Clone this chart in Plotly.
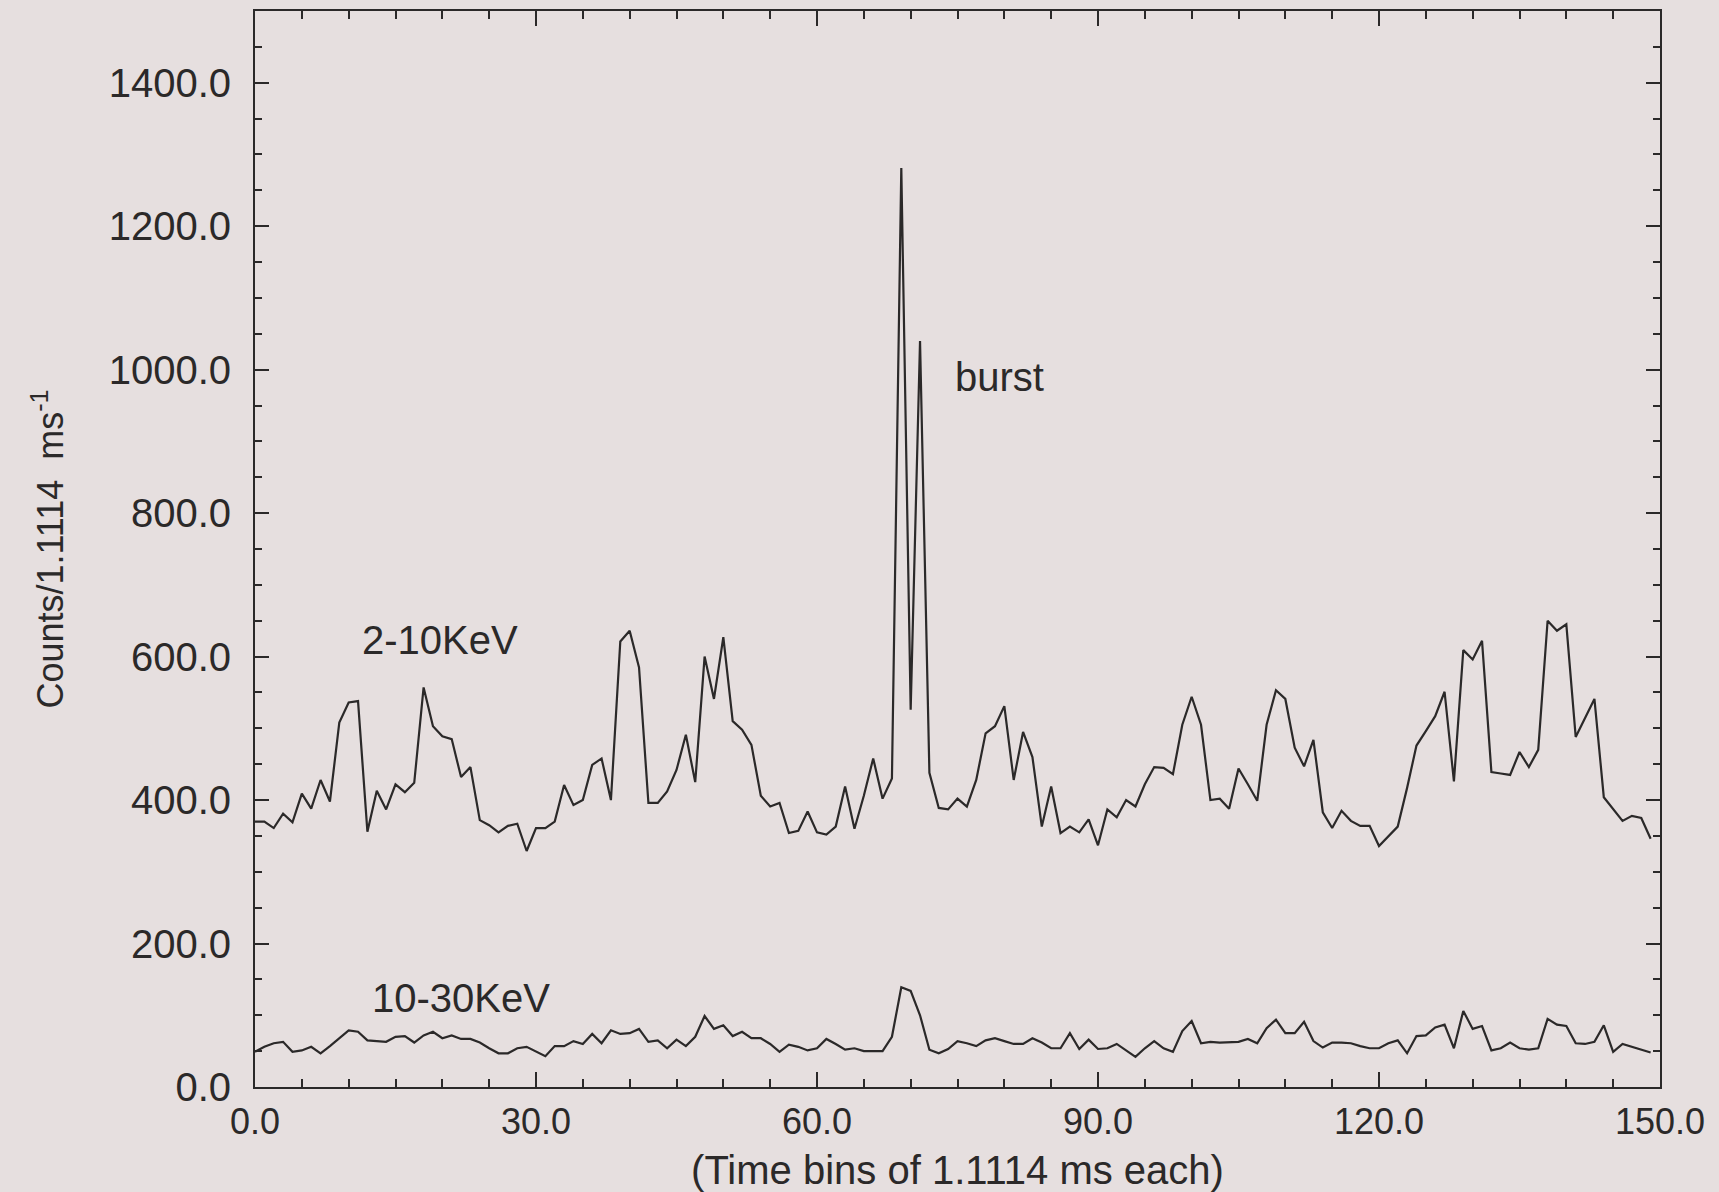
import plotly.graph_objects as go

bins = list(range(150))

counts_2_10kev = [
    370, 370, 361, 381, 369, 409, 388, 428, 398, 508,
    536, 538, 356, 413, 387, 422, 411, 424, 557, 503,
    489, 485, 432, 446, 372, 365, 355, 364, 367, 329,
    361, 361, 370, 421, 393, 400, 449, 458, 400, 621,
    636, 585, 396, 396, 412, 442, 491, 425, 600, 541,
    627, 510, 498, 477, 406, 391, 396, 354, 357, 384,
    355, 352, 363, 419, 360, 406, 458, 402, 430, 1281,
    526, 1040, 438, 389, 387, 402, 391, 428, 493, 503,
    531, 428, 495, 460, 363, 419, 354, 363, 355, 373,
    337, 387, 376, 400, 391, 422, 446, 445, 436, 505,
    544, 505, 400, 402, 388, 444, 422, 399, 505, 553,
    541, 473, 447, 484, 383, 361, 385, 371, 364, 364,
    336, 350, 363, 417, 476, 496, 517, 551, 426, 609,
    596, 622, 439, 437, 435, 467, 446, 470, 650, 636,
    645, 488, 515, 541, 404, 387, 371, 378, 375, 346,
]

counts_10_30kev = [
    49, 56, 61, 63, 49, 51, 56, 47, 57, 68,
    79, 77, 65, 64, 63, 70, 71, 62, 72, 77,
    68, 72, 67, 67, 62, 54, 47, 47, 54, 56,
    50, 43, 57, 57, 64, 60, 74, 61, 79, 74,
    75, 81, 63, 65, 54, 66, 57, 70, 99, 81,
    86, 71, 77, 68, 68, 60, 49, 59, 56, 51,
    54, 67, 60, 52, 54, 50, 50, 50, 70, 139,
    134, 100, 52, 47, 53, 64, 61, 57, 65, 68,
    64, 60, 60, 68, 62, 54, 54, 75, 53, 66,
    53, 54, 60, 51, 42, 54, 64, 54, 49, 78,
    92, 61, 63, 62, 63, 63, 67, 61, 82, 94,
    75, 75, 91, 64, 55, 62, 62, 61, 57, 54,
    54, 61, 65, 47, 71, 72, 83, 87, 54, 106,
    81, 85, 51, 54, 62, 54, 52, 54, 95, 87,
    85, 61, 60, 63, 86, 49, 60, 56, 51, 48,
]

labels = [
    {"text": "2-10KeV", "x": 19.8, "y": 623},
    {"text": "10-30KeV", "x": 22.0, "y": 124},
    {"text": "burst", "x": 79.5, "y": 990},
]

x_ticks = [0, 30, 60, 90, 120, 150]
y_ticks = [0, 200, 400, 600, 800, 1000, 1200, 1400]

BG = "#e6dfdf"
INK = "#2b2929"
REG = "Liberation Sans, Arial, Helvetica, sans-serif"

fig = go.Figure()
fig.add_trace(go.Scatter(x=bins, y=counts_2_10kev, mode="lines",
                         line=dict(color=INK, width=2.2), name="2-10KeV",
                         showlegend=False))
fig.add_trace(go.Scatter(x=bins, y=counts_10_30kev, mode="lines",
                         line=dict(color=INK, width=2.2), name="10-30KeV",
                         showlegend=False))

for lab in labels:
    fig.add_annotation(x=lab["x"], y=lab["y"], text=lab["text"], showarrow=False,
                       xref="x", yref="y",
                       font=dict(family=REG, size=40, color=INK))

fig.update_layout(
    width=1719, height=1192,
    margin=dict(l=255, r=59, t=11, b=105),
    paper_bgcolor=BG, plot_bgcolor=BG,
    showlegend=False,
)

fig.update_xaxes(
    range=[0, 150], tickvals=x_ticks,
    ticktext=[f"{v:.1f}" for v in x_ticks],
    showgrid=False, zeroline=False, automargin=False,
    showline=True, linecolor=INK, linewidth=2, mirror="allticks",
    ticks="inside", ticklen=15, tickwidth=2, tickcolor=INK,
    minor=dict(dtick=5, ticks="inside", ticklen=8, tickwidth=2, tickcolor=INK, showgrid=False),
    tickfont=dict(family=REG, size=36, color=INK),
    ticklabelstandoff=2,
    title=dict(text="(Time bins of 1.1114 ms each)",
               font=dict(family=REG, size=40, color=INK), standoff=22),
)
fig.update_yaxes(
    range=[0, 1500], tickvals=y_ticks,
    ticktext=[f"{v:.1f}" for v in y_ticks],
    showgrid=False, zeroline=False, automargin=False,
    showline=True, linecolor=INK, linewidth=2, mirror="allticks",
    ticks="inside", ticklen=14, tickwidth=2, tickcolor=INK,
    minor=dict(dtick=50, ticks="inside", ticklen=7, tickwidth=2, tickcolor=INK, showgrid=False),
    tickfont=dict(family=REG, size=40, color=INK),
    ticklabelstandoff=14,
    title=dict(text="Counts/1.1114  ms<sup>-1</sup>",
               font=dict(family=REG, size=36, color=INK), standoff=34),
)

fig.write_html("out.html", config={"displayModeBar": False},
               post_script="document.body.style.margin='0';document.body.style.overflow='hidden';")
